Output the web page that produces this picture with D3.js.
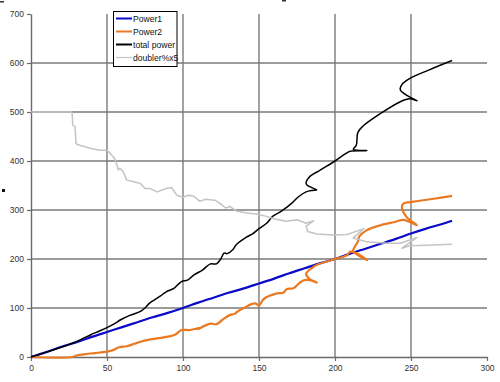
<!DOCTYPE html>
<html><head><meta charset="utf-8">
<script src="https://cdn.jsdelivr.net/npm/d3@7"></script>
<style>body{margin:0;background:#fff}svg{display:block}text{font-family:"Liberation Sans",Arial,sans-serif}</style>
</head><body>
<svg id="c" width="500" height="382"></svg>
<script>
const xTicks = [0, 50, 100, 150, 200, 250, 300];
const yTicks = [0, 100, 200, 300, 400, 500, 600, 700];
const seriesNames = ["Power1", "Power2", "total power", "doubler%x5"];

const power1X = [0, 10, 20, 30, 40, 50, 60, 70, 80, 90, 100, 110, 120, 130, 140, 150, 160, 170, 180, 190, 200, 210, 220, 230, 240, 250, 260, 270, 277];
const power1Y = [0, 10, 21, 30, 41, 51, 61, 71, 81, 90, 100, 111, 121, 131, 140, 150, 160, 171, 181, 191, 200, 211, 221, 231, 241, 252, 262, 271, 278];

const power2X = [0, 27, 30, 36, 42, 50, 54, 58, 63, 68, 72, 77, 83, 91, 95, 99, 104, 109, 112, 110, 118, 122, 126, 131, 134, 136, 142, 145, 148, 150, 153, 157, 162, 166, 168, 173, 177, 180, 185, 188, 183, 181, 185, 188, 199, 208, 210, 214, 221, 212, 213, 215, 216, 221, 230, 240, 245, 254, 247, 244, 245, 252, 265, 277];
const power2Y = [0, 0, 3, 6, 8, 11, 14, 20, 22, 27, 31, 35, 38, 42, 46, 55, 55, 58, 60, 57, 68, 67, 76, 86, 88, 93, 103, 108, 109, 105, 118, 125, 130, 131, 138, 141, 152, 157, 156, 152, 160, 170, 182, 188, 199, 208, 215, 212, 198, 216, 225, 235, 246, 259, 269, 276, 280, 269, 286, 307, 313, 317, 323, 329];

const totalX = [0, 10, 20, 27, 33, 39, 45, 50, 55, 59, 65, 72, 75, 78, 82, 85, 89, 94, 99, 103, 107, 113, 118, 122, 125, 127, 129, 133, 135, 142, 146, 150, 155, 159, 164, 168, 172, 176, 181, 185, 188, 183, 181, 183, 190, 200, 207, 210, 221, 212, 214, 215, 218, 230, 243, 249, 254, 249, 243, 244, 249, 262, 277];
const totalY = [0, 10, 20, 28, 36, 45, 53, 60, 68, 76, 85, 93, 100, 110, 118, 124, 133, 140, 154, 157, 167, 178, 190, 190, 201, 212, 211, 220, 229, 245, 252, 262, 273, 287, 296, 305, 315, 327, 337, 340, 341, 348, 354, 367, 381, 400, 415, 420, 421, 424, 432, 458, 470, 497, 521, 527, 523, 531, 545, 556, 568, 586, 605];

const doublerX = [0, 27, 27.5, 29, 29.6, 31, 39, 45, 50, 52, 55, 56, 57.4, 58.5, 60.7, 63, 67, 72, 75, 78, 83, 89, 92.5, 96, 100, 103.5, 107, 111, 115, 121, 125, 128, 131, 135, 142, 148, 155, 161, 168, 175, 181, 186, 181, 182, 188, 199, 208, 219, 212, 221, 234, 243, 254, 244, 249, 260, 277];
const doublerY = [500, 500, 473, 470, 436, 433, 426, 422, 422, 416, 405, 398, 382, 385, 378, 361, 358, 354, 344, 344, 337, 344, 346, 330, 326, 330, 328, 318, 322, 320, 312, 304, 307, 298, 294, 292, 287, 281, 277, 280, 273, 278, 267, 256, 251, 249, 250, 262, 243, 235, 232, 232, 244, 222, 227, 228, 230];

const colors = ["#0a0ac8", "#ea7a22", "#000000", "#c4c4c4"];
const widths = [2.2, 2.2, 1.5, 1.5];

const svg = d3.select("#c");
const x = d3.scaleLinear().domain([0, 300]).range([31, 487]);
const y = d3.scaleLinear().domain([0, 700]).range([357, 14]);

// gridlines
const g = svg.append("g");
g.selectAll(".hg").data(yTicks.filter(v => v > 0 && v < 700)).enter().append("line")
  .attr("x1", x(0)).attr("x2", x(300)).attr("y1", d => y(d)).attr("y2", d => y(d))
  .attr("stroke", "#7a7a7a").attr("stroke-width", 1.4);
g.selectAll(".vg").data(xTicks.filter(v => v > 0 && v < 300)).enter().append("line")
  .attr("x1", d => x(d)).attr("x2", d => x(d)).attr("y1", y(0)).attr("y2", y(700))
  .attr("stroke", "#7a7a7a").attr("stroke-width", 1.4);

// axes
const xAxis = d3.axisBottom(x).tickValues(xTicks).tickSize(4).tickSizeOuter(0).tickPadding(4);
const yAxis = d3.axisLeft(y).tickValues(yTicks).tickSize(4).tickSizeOuter(0).tickPadding(3);
const ax = svg.append("g").attr("transform", `translate(0,${y(0)})`).call(xAxis);
const ay = svg.append("g").attr("transform", `translate(${x(0)},0)`).call(yAxis);
[ax, ay].forEach(a => {
  a.selectAll("path").attr("stroke", "#6a6a6a").attr("stroke-width", 1.4);
  a.selectAll("line").attr("stroke", "#6a6a6a").attr("stroke-width", 1.2);
  a.selectAll("text").attr("fill", "#333").style("font-size", "8.5px");
});

// series
const smooth = d3.line().x(d => x(d[0])).y(d => y(d[1])).curve(d3.curveCatmullRom.alpha(0.5));
const straight = d3.line().x(d => x(d[0])).y(d => y(d[1]));
const series = [
  d3.zip(power1X, power1Y),
  d3.zip(power2X, power2Y),
  d3.zip(totalX, totalY),
  d3.zip(doublerX, doublerY)
];
series.forEach((s, i) => {
  svg.append("path").datum(s).attr("d", i === 3 ? straight : smooth).attr("fill", "none")
    .attr("stroke", colors[i]).attr("stroke-width", widths[i]).attr("stroke-linejoin", "round");
});

// legend
const lg = svg.append("g");
lg.append("rect").attr("x", 113.5).attr("y", 11.5).attr("width", 63.5).attr("height", 55)
  .attr("fill", "#fff").attr("stroke", "#000").attr("stroke-width", 1);
seriesNames.forEach((n, i) => {
  const yy = 18.5 + i * 13;
  lg.append("line").attr("x1", 116).attr("x2", 132).attr("y1", yy).attr("y2", yy)
    .attr("stroke", colors[i]).attr("stroke-width", i === 3 ? 1.2 : 2);
  lg.append("text").attr("x", 133).attr("y", yy + 3).attr("fill", "#111")
    .style("font-size", "8.6px").text(n);
});

// small clipped marks
svg.append("rect").attr("x", 0).attr("y", 1).attr("width", 4).attr("height", 1.5).attr("fill", "#333");
svg.append("rect").attr("x", 282).attr("y", 0).attr("width", 4).attr("height", 1.5).attr("fill", "#333");
svg.append("rect").attr("x", 2).attr("y", 189).attr("width", 3).attr("height", 3).attr("fill", "#111");
</script>
</body></html>
